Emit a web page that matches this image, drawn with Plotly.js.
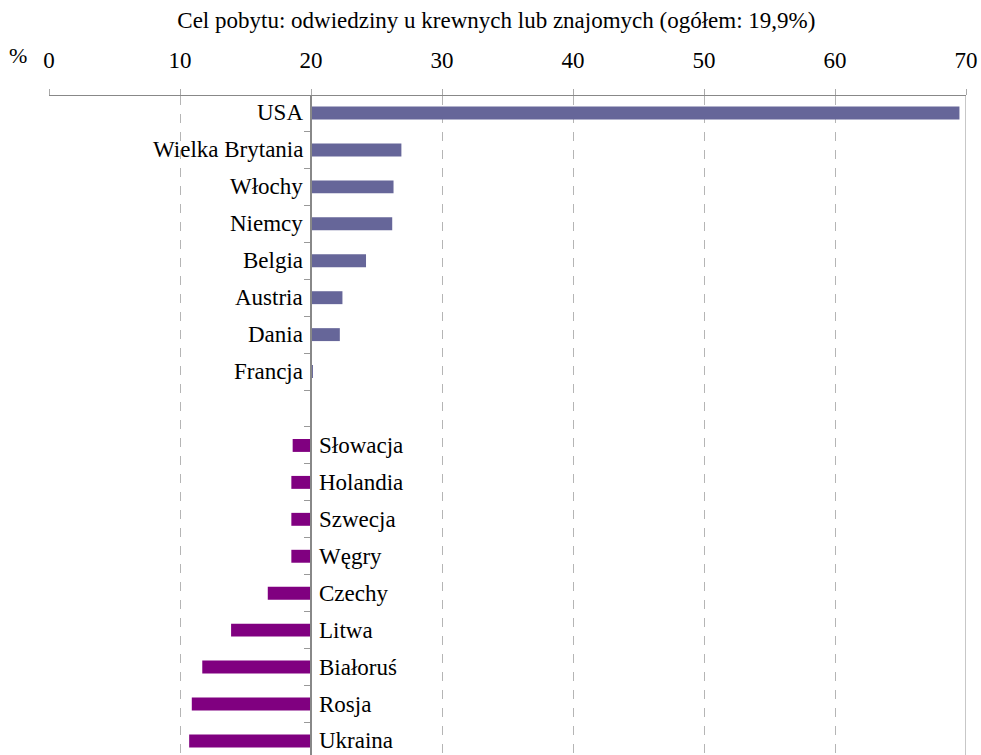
<!DOCTYPE html>
<html>
<head>
<meta charset="utf-8">
<script src="https://cdn.plot.ly/plotly-3.0.1.min.js"></script>
<style>html,body{margin:0;padding:0;background:#fff;}#chart{width:981px;height:755px;}</style>
</head>
<body>
<div id="chart"></div>
<script>
// Data
const BASE = 20; // category axis crosses value axis here
const topCountries = ["USA", "Wielka Brytania", "Włochy", "Niemcy", "Belgia", "Austria", "Dania", "Francja"];
const topValues = [69.5, 26.9, 26.3, 26.2, 24.2, 22.4, 22.2, 20.15];
const gapLabel = "__gap__";
const bottomCountries = ["Słowacja", "Holandia", "Szwecja", "Węgry", "Czechy", "Litwa", "Białoruś", "Rosja", "Ukraina"];
const bottomValues = [18.6, 18.5, 18.5, 18.5, 16.7, 13.9, 11.7, 10.9, 10.7];
const xTicks = [0, 10, 20, 30, 40, 50, 60, 70];
const titleText = "Cel pobytu: odwiedziny u krewnych lub znajomych (ogółem: 19,9%)";

const FONT = "Liberation Serif, Times New Roman, serif";
const FS = 23;
const XMIN = 0, XMAX = 70;
const order = topCountries.concat([gapLabel], bottomCountries);

const traces = [
  {
    type: "bar", orientation: "h",
    y: topCountries,
    x: topValues.map(v => v - BASE),
    base: BASE,
    marker: {color: "#666699"},
    hoverinfo: "skip"
  },
  {
    type: "bar", orientation: "h",
    y: [gapLabel],
    x: [null],
    base: BASE,
    hoverinfo: "skip",
    showlegend: false
  },
  {
    type: "bar", orientation: "h",
    y: bottomCountries,
    x: bottomValues.map(v => v - BASE),
    base: BASE,
    marker: {color: "#800080"},
    hoverinfo: "skip"
  }
];

const annotations = [];
topCountries.forEach(c => annotations.push({
  x: BASE, y: c, xref: "x", yref: "y", text: c, showarrow: false,
  xanchor: "right", yanchor: "middle", xshift: -6,
  font: {family: FONT, size: FS, color: "#000"}
}));
bottomCountries.forEach(c => annotations.push({
  x: BASE, y: c, xref: "x", yref: "y", text: c, showarrow: false,
  xanchor: "left", yanchor: "middle", xshift: 6,
  font: {family: FONT, size: FS, color: "#000"}
}));
annotations.push({
  x: -0.034, y: 1.062, xref: "paper", yref: "paper", text: "%", showarrow: false,
  xanchor: "center", yanchor: "middle",
  font: {family: FONT, size: FS - 1, color: "#000"}
});

const layout = {
  width: 981, height: 755,
  margin: {l: 49, r: 15, t: 96, b: 0, pad: 0},
  paper_bgcolor: "#fff", plot_bgcolor: "#fff",
  showlegend: false,
  barmode: "overlay",
  bargap: 0.65,
  title: {
    text: titleText,
    x: 0.506, xref: "container", xanchor: "center",
    y: 0.973, yref: "container", yanchor: "middle",
    font: {family: FONT, size: FS, color: "#000"}
  },
  xaxis: {
    side: "top",
    range: [XMIN, XMAX],
    tickvals: xTicks,
    ticktext: xTicks.map(String),
    tickfont: {family: FONT, size: FS, color: "#000"},
    ticks: "outside", ticklen: 6, tickcolor: "#aaa", tickwidth: 1,
    ticklabelstandoff: 11,
    showline: true, linecolor: "#888", linewidth: 1.5,
    showgrid: true, gridcolor: "#b5b5b5", griddash: "dash", gridwidth: 1,
    zeroline: false,
    fixedrange: true
  },
  yaxis: {
    type: "category",
    categoryorder: "array", categoryarray: order,
    range: [17.38, -0.46], autorange: false,
    anchor: "free", position: (BASE - XMIN) / (XMAX - XMIN), side: "left",
    showline: true, linecolor: "#888", linewidth: 2,
    ticks: "outside", tickson: "boundaries", ticklen: 6, tickcolor: "#999", tickwidth: 1,
    showticklabels: false, showgrid: false, zeroline: false,
    fixedrange: true
  },
  shapes: [{
    type: "line", xref: "x", yref: "paper", x0: XMAX, x1: XMAX, y0: 0, y1: 1,
    line: {color: "#b5b5b5", width: 1.5}
  }],
  annotations: annotations
};

Plotly.newPlot("chart", traces, layout, {displayModeBar: false, staticPlot: true});
</script>
</body>
</html>
